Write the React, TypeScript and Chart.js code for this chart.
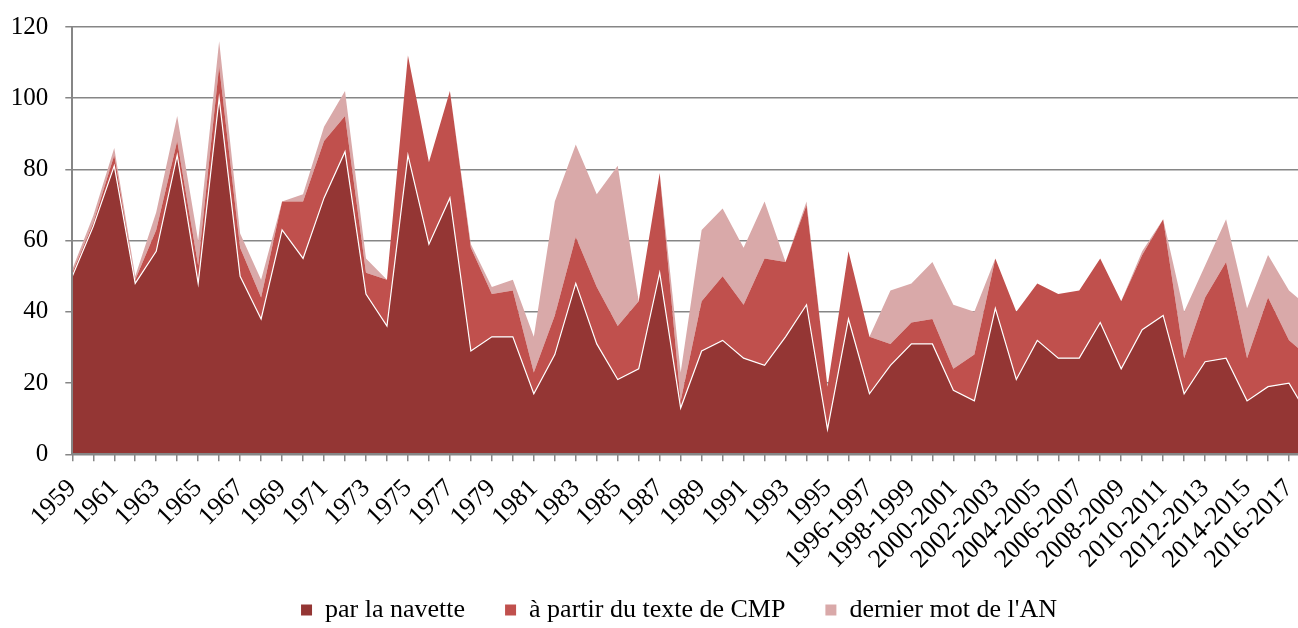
import React, { useEffect, useRef } from 'react';
import { Chart, registerables } from 'chart.js';

Chart.register(...registerables);

const categories: string[] = [
  '1959', '1960', '1961', '1962', '1963', '1964', '1965', '1966', '1967', '1968',
  '1969', '1970', '1971', '1972', '1973', '1974', '1975', '1976', '1977', '1978',
  '1979', '1980', '1981', '1982', '1983', '1984', '1985', '1986', '1987', '1988',
  '1989', '1990', '1991', '1992', '1993', '1994', '1995', '1995-1996', '1996-1997', '1997-1998',
  '1998-1999', '1999-2000', '2000-2001', '2001-2002', '2002-2003', '2003-2004', '2004-2005', '2005-2006', '2006-2007', '2007-2008',
  '2008-2009', '2009-2010', '2010-2011', '2011-2012', '2012-2013', '2013-2014', '2014-2015', '2015-2016', '2016-2017', '2017-2018',
];

const seriesNames: string[] = ['par la navette', 'à partir du texte de CMP', "dernier mot de l'AN"];

const navette: number[] = [
  50, 64, 81, 48, 57, 84, 48, 100, 50, 38,
  63, 55, 72, 85, 45, 36, 84, 59, 72, 29,
  33, 33, 17, 28, 48, 31, 21, 24, 51, 13,
  29, 32, 27, 25, 33, 42, 7, 38, 17, 25,
  31, 31, 18, 15, 41, 21, 32, 27, 27, 37,
  24, 35, 39, 17, 26, 27, 15, 19, 20, 10,
];

const cmp: number[] = [
  1, 1, 3, 1, 6, 4, 5, 9, 8, 6,
  8, 16, 16, 10, 6, 13, 28, 23, 30, 29,
  12, 13, 6, 11, 13, 16, 15, 19, 28, 2,
  14, 18, 15, 30, 21, 28, 12, 19, 16, 6,
  6, 7, 6, 13, 14, 19, 16, 18, 19, 18,
  19, 21, 27, 10, 18, 27, 12, 25, 12, 17,
];

const dernierMot: number[] = [
  1, 2, 2, 1, 5, 7, 7, 7, 4, 5,
  0, 2, 4, 7, 4, 0, 0, 0, 0, 1,
  2, 3, 10, 32, 26, 26, 45, 0, 0, 8,
  20, 19, 16, 16, 0, 1, 0, 0, 0, 15,
  11, 16, 18, 12, 0, 0, 0, 0, 0, 0,
  0, 1, 0, 13, 9, 12, 14, 12, 14, 14,
];

const yTicks: number[] = [0, 20, 40, 60, 80, 100, 120];

const FONT = '"Liberation Serif", "Times New Roman", Times, serif';
const GRID = '#868686';

export default function App() {
  const ref = useRef<HTMLCanvasElement>(null);

  useEffect(() => {
    document.body.style.margin = '0';
    const canvas = ref.current;
    if (!canvas) return;
    const pts = (arr: number[]) => arr.map((v, i) => ({ x: i, y: v }));
    const chart = new Chart(canvas, {
      type: 'line',
      data: {
        datasets: [
          {
            label: seriesNames[0],
            data: pts(navette),
            backgroundColor: '#943634',
            borderColor: '#ffffff',
            borderWidth: 1.2,
            fill: 'origin',
            pointRadius: 0,
            tension: 0,
          },
          {
            label: seriesNames[1],
            data: pts(cmp),
            backgroundColor: '#C0504D',
            borderColor: '#C0504D',
            borderWidth: 0,
            fill: '-1',
            pointRadius: 0,
            tension: 0,
          },
          {
            label: seriesNames[2],
            data: pts(dernierMot),
            backgroundColor: '#D9A9A9',
            borderColor: '#D9A9A9',
            borderWidth: 0,
            fill: '-1',
            pointRadius: 0,
            tension: 0,
          },
        ],
      },
      options: {
        animation: false,
        responsive: false,
        events: [],
        layout: { padding: { top: 27, right: 0, bottom: -5, left: 0 } },
        scales: {
          x: {
            type: 'linear',
            min: 0,
            max: categories.length - 1,
            afterFit: (s: any) => {
              s.paddingRight = 48;
              s.height = 102.7;
              // let the rotated labels run below the axis box, as in the original
              s._computeLabelArea = () => undefined;
            },
            afterBuildTicks: (s: any) => {
              s.ticks = categories.map((_, i) => ({ value: i }));
            },
            grid: { drawOnChartArea: false, drawTicks: true, tickLength: 7, color: GRID, lineWidth: 1.5 },
            border: { display: true, color: GRID, width: 2, z: 1 },
            ticks: {
              autoSkip: false,
              minRotation: 45,
              maxRotation: 45,
              padding: 12,
              color: '#000',
              font: { family: FONT, size: 26 },
              callback: (v: any) => {
                const i = Number(v);
                return Number.isInteger(i) && i % 2 === 0 && categories[i] ? categories[i] : '';
              },
            },
          },
          y: {
            stacked: true,
            min: 0,
            max: 120,
            afterFit: (s: any) => {
              s.width = 72.3;
              s.paddingTop = 0;
            },
            afterBuildTicks: (s: any) => {
              s.ticks = yTicks.map((v) => ({ value: v }));
            },
            grid: { color: GRID, lineWidth: 1.5, tickLength: 7 },
            border: { display: true, color: GRID, width: 2, z: 1 },
            ticks: {
              padding: 17,
              color: '#000',
              font: { family: FONT, size: 25 },
            },
          },
        },
        plugins: {
          tooltip: { enabled: false },
          legend: {
            position: 'bottom',
            labels: {
              boxWidth: 11,
              boxHeight: 11,
              padding: 40,
              color: '#000',
              font: { family: FONT, size: 26 },
              generateLabels: (c: any) =>
                (Chart.defaults.plugins.legend.labels as any)
                  .generateLabels(c)
                  .map((l: any) => ({ ...l, strokeStyle: l.fillStyle, lineWidth: 0 })),
            },
          },
        },
      } as any,
    });
    return () => chart.destroy();
  }, []);

  return (
    <div
      style={{
        position: 'absolute',
        left: 0,
        top: 0,
        width: 1298,
        height: 628,
        overflow: 'hidden',
        background: '#fff',
      }}
    >
      <canvas ref={ref} width={1358} height={628} style={{ width: 1358, height: 628, display: 'block' }} />
    </div>
  );
}
